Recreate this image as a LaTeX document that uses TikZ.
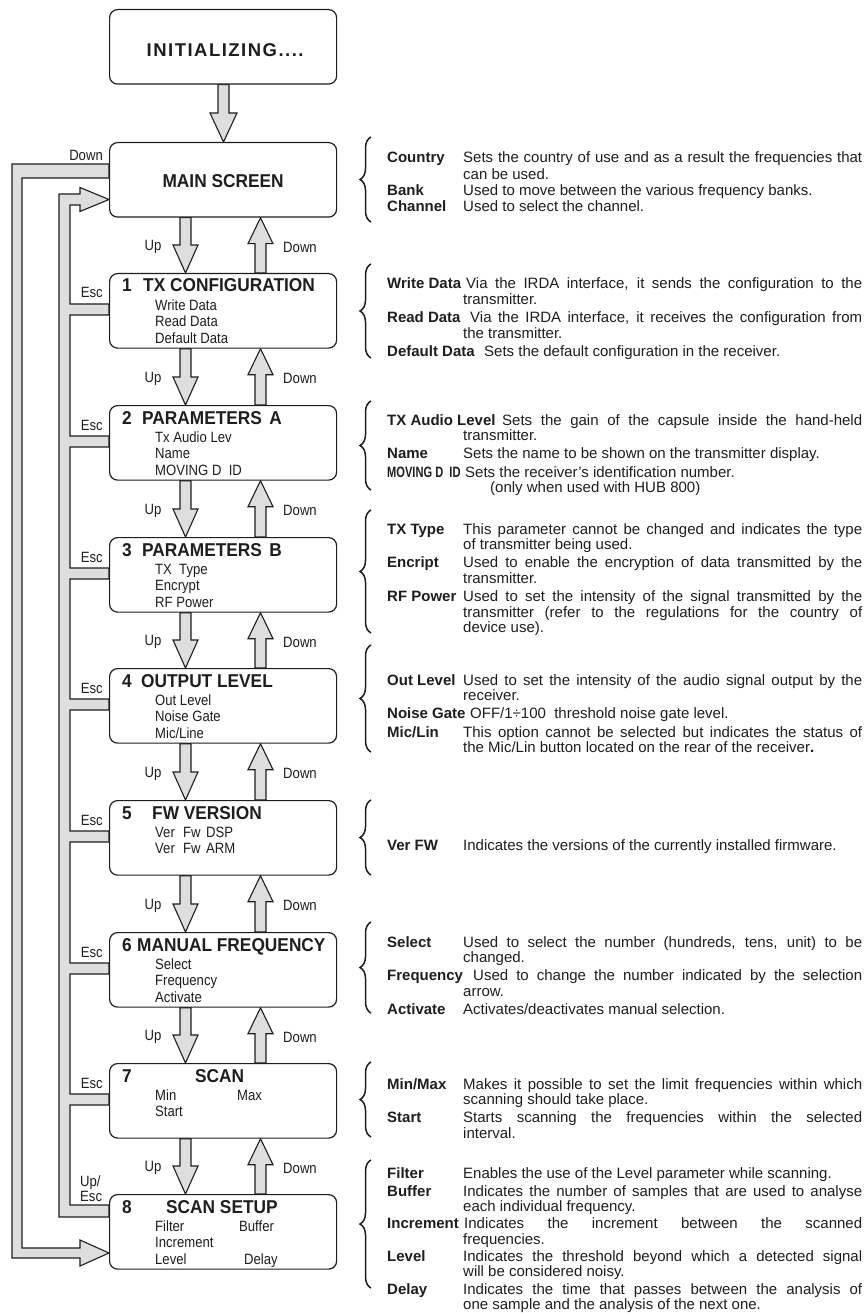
\documentclass[tikz,border=0pt]{standalone}
\usepackage{fontspec}
\usepackage{graphicx}
\setmainfont{Liberation Sans}
\newfontfamily\nfont[FakeStretch=0.88]{Liberation Sans}
\newfontfamily\tfont[FakeStretch=0.93]{Liberation Sans}
\newfontfamily\wfont[LetterSpace=8]{Liberation Sans}
\usetikzlibrary{calc,decorations.pathreplacing}
\pgfdeclarelayer{bg}
\pgfsetlayers{bg,main}
\definecolor{arrgrey}{RGB}{222,222,222}
\definecolor{ink}{RGB}{30,30,30}
\newcommand\ent[3][76pt]{\par\hangindent=76pt\hangafter=1\noindent\rule{0pt}{12pt}\makebox[#1][l]{\bfseries #2}#3\par}
\tikzset{
 scr/.style={draw=ink, line width=1.2pt, rounded corners=8pt, fill=white, minimum width=227pt, minimum height=74.5pt, anchor=north west, inner sep=0pt},
 ttl/.style={font=\tfont\bfseries\fontsize{18.6}{20}\selectfont, anchor=base west, inner sep=0pt, text=ink},
 itm/.style={font=\nfont\fontsize{14.9}{16}\selectfont, anchor=base west, inner sep=0pt, text=ink},
 lbl/.style={font=\nfont\fontsize{14.9}{15}\selectfont, inner sep=0pt, text=ink},
 blk/.style={draw=ink, line width=1.1pt, fill=arrgrey, line join=miter},
 brc/.style={draw=ink, line width=1.5pt, decorate, decoration={brace, amplitude=11pt}},
 desc/.style={anchor=north west, inner sep=0pt, text width=475pt, align=justify, text=ink,
   font=\fontsize{15}{15.5}\selectfont,
   execute at begin node={\tolerance=10000\hyphenpenalty=10000\exhyphenpenalty=10000\parskip=2.8pt}},
}
\newcommand\itemsAt[4]{%
 \node[itm] (#1i1) at ($(#1.north west)+(46,37)$) {#2};
 \node[itm] (#1i2) at ($(#1.north west)+(46,53.5)$) {#3};
 \node[itm] (#1i3) at ($(#1.north west)+(46,70)$) {#4};}
\newcommand\titleAt[4]{%
 \node[ttl] (#1n) at ($(#1.north west)+(13,19)$) {#2};
 \node[ttl] (#1t) at ($(#1.north west)+(#3,19)$) {#4};}
\newcommand\dnArr[2]{%
 \draw[blk] ($(#1.south west)+(71,0)$) -- ($(#1.south west)+(82,0)$) -- ($(#2.north west)+(82,-28)$) -- ($(#2.north west)+(89,-28)$) -- ($(#2.north west)+(76.5,0)$) -- ($(#2.north west)+(64,-28)$) -- ($(#2.north west)+(71,-28)$) -- cycle;
 \node[lbl] (#1up) at ($(#1.south west)!0.5!(#2.north west)+(44,2)$) {Up};}
\newcommand\upArr[2]{%
 \draw[blk] ($(#2.north west)+(146,0)$) -- ($(#2.north west)+(157,0)$) -- ($(#1.south west)+(157,26)$) -- ($(#1.south west)+(164,26)$) -- ($(#1.south west)+(151.5,0)$) -- ($(#1.south west)+(139,26)$) -- ($(#1.south west)+(146,26)$) -- cycle;
 \node[lbl] (#1dn) at ($(#1.south west)!0.5!(#2.north west)+(191,2)$) {Down};}
\newcommand\escAt[1]{\node[lbl, anchor=base east] (#1esc) at ($(#1.north west)+(-6,25)$) {Esc};}
\begin{document}
\begin{tikzpicture}[x=1pt,y=-1pt]
\useasboundingbox (0,0) rectangle (866,1313);
% screens
\node[scr] (init) at (109,9) {};
\node[scr] (b0) at (109,142) {};
\node[scr] (b1) at (109,273) {};
\node[scr] (b2) at (109,405) {};
\node[scr] (b3) at (109,537) {};
\node[scr] (b4) at (109,668) {};
\node[scr] (b5) at (109,800) {};
\node[scr] (b6) at (109,932) {};
\node[scr] (b7) at (109,1063) {};
\node[scr] (b8) at (109,1194) {};
% texts in screens
\node[inner sep=0pt, text=ink, font=\wfont\bfseries\fontsize{18.5}{20}\selectfont] (initt) at ($(init.center)+(2,3)$) {INITIALIZING....};
\node[ttl, anchor=center] (b0t) at ($(b0.center)+(0,1)$) {MAIN SCREEN};
\titleAt{b1}{1}{34}{TX CONFIGURATION}
\titleAt{b2}{2}{33}{PARAMETERS\hspace{0.4em}A}
\titleAt{b3}{3}{33}{PARAMETERS\hspace{0.4em}B}
\titleAt{b4}{4}{32}{OUTPUT LEVEL}
\titleAt{b5}{5}{43}{FW VERSION}
\titleAt{b6}{6}{28}{MANUAL FREQUENCY}
\titleAt{b7}{7}{86}{SCAN}
\titleAt{b8}{8}{57}{SCAN SETUP}
\itemsAt{b1}{Write Data}{Read Data}{Default Data}
\itemsAt{b2}{Tx Audio Lev}{Name}{MOVING D\ \ ID}
\itemsAt{b3}{TX\ \ Type}{Encrypt}{RF Power}
\itemsAt{b4}{Out Level}{Noise Gate}{Mic/Line}
\node[itm] (b5i1) at ($(b5.north west)+(46,37)$) {\makebox[28pt][l]{Ver}\makebox[23pt][l]{Fw}DSP};
\node[itm] (b5i2) at ($(b5.north west)+(46,53.5)$) {\makebox[28pt][l]{Ver}\makebox[23pt][l]{Fw}ARM};
\itemsAt{b6}{Select}{Frequency}{Activate}
\node[itm] (b7i1) at ($(b7.north west)+(46,37)$) {Min};
\node[itm] (b7i2) at ($(b7.north west)+(128,37)$) {Max};
\node[itm] (b7i3) at ($(b7.north west)+(46,53.5)$) {Start};
\node[itm] (b8i1) at ($(b8.north west)+(46,37)$) {Filter};
\node[itm] (b8i2) at ($(b8.north west)+(130,37)$) {Buffer};
\node[itm] (b8i3) at ($(b8.north west)+(46,53.5)$) {Increment};
\node[itm] (b8i4) at ($(b8.north west)+(46,70)$) {Level};
\node[itm] (b8i5) at ($(b8.north west)+(135,70)$) {Delay};
% labels on the left
\node[lbl, anchor=base east] (topdown) at ($(b0.north west)+(-6,19)$) {Down};
\escAt{b1}\escAt{b2}\escAt{b3}\escAt{b4}\escAt{b5}\escAt{b6}\escAt{b7}
\node[lbl, align=left, anchor=south west] (b8esc) at ($(b8.north west)+(-29,8)$) {Up/\\Esc};
% block arrows and rails
\begin{pgfonlayer}{bg}
\fill[white] (0,0) rectangle (866,1313);
\draw[blk] ($(init.south west)+(109,0)$) -- ($(init.south west)+(120,0)$) -- ($(b0.north west)+(120,-29)$) -- ($(b0.north west)+(128,-29)$) -- ($(b0.north west)+(114.5,0)$) -- ($(b0.north west)+(101,-29)$) -- ($(b0.north west)+(109,-29)$) -- cycle;
\dnArr{b0}{b1}\upArr{b0}{b1}
\dnArr{b1}{b2}\upArr{b1}{b2}
\dnArr{b2}{b3}\upArr{b2}{b3}
\dnArr{b3}{b4}\upArr{b3}{b4}
\dnArr{b4}{b5}\upArr{b4}{b5}
\dnArr{b5}{b6}\upArr{b5}{b6}
\dnArr{b6}{b7}\upArr{b6}{b7}
\dnArr{b7}{b8}\upArr{b7}{b8}
% outer rail: Down from main screen to scan setup
\draw[blk] ($(b0.north west)+(0,22)$) -- ($(b0.north west)+(-97,22)$) -- ($(b8.north west)+(-97,64)$) -- ($(b8.north west)+(-29,64)$) -- ($(b8.north west)+(-29,72)$) -- ($(b8.north west)+(0,59)$) -- ($(b8.north west)+(-29,46)$) -- ($(b8.north west)+(-29,54)$) -- ($(b8.north west)+(-87,54)$) -- ($(b0.north west)+(-87,36)$) -- ($(b0.north west)+(0,36)$) -- cycle;
% inner rail: Esc back to main screen
\draw[blk] ($(b0.north west)+(0,57.5)$) -- ($(b0.north west)+(-29,69.5)$) -- ($(b0.north west)+(-29,63)$) -- ($(b0.north west)+(-39,63)$)
  foreach \b in {b1,b2,b3,b4,b5,b6,b7} { -- ($(\b.north west)+(-39,31)$) -- ($(\b.north west)+(0,31)$) -- ($(\b.north west)+(0,42)$) -- ($(\b.north west)+(-39,42)$) }
  -- ($(b8.north west)+(-39,11)$) -- ($(b8.north west)+(0,11)$) -- ($(b8.north west)+(0,23)$) -- ($(b8.north west)+(-50,23)$) -- ($(b0.north west)+(-50,52)$) -- ($(b0.north west)+(-29,52)$) -- ($(b0.north west)+(-29,45.5)$) -- cycle;
\end{pgfonlayer}
% braces
\draw[brc] (371,222) -- (371,137);
\draw[brc] (371,358) -- (371,264);
\draw[brc] (371,490) -- (371,401);
\draw[brc] (371,633) -- (371,510);
\draw[brc] (371,752) -- (371,645);
\draw[brc] (371,875) -- (371,800);
\draw[brc] (371,1013) -- (371,922);
\draw[brc] (371,1137) -- (371,1062);
\draw[brc] (371,1288) -- (371,1160);
% descriptions
\node[desc] (d0) at (387,146.5) {\fontsize{15}{16.3}\selectfont\parskip=0pt
\ent{Country}{Sets the country of use and as a result the frequencies that\linebreak can be used.}
\ent{Bank}{Used to move between the various frequency banks.}
\ent{Channel}{Used to select the channel.}};
\node[desc] (d1) at (387,270.5) {%
\ent[79pt]{Write Data}{Via the IRDA interface, it sends the configuration to the\linebreak transmitter.}
\ent[83pt]{Read Data}{Via the IRDA interface, it receives the configuration from\linebreak the transmitter.}
\ent[97pt]{Default Data}{Sets the default configuration in the receiver.}};
\node[desc] (d2) at (387,406.5) {%
\ent[115pt]{TX Audio Level}{Sets the gain of the capsule inside the hand-held\linebreak transmitter.}
\ent{Name}{Sets the name to be shown on the transmitter display.}
\ent[78pt]{\scalebox{0.74}[1]{MOVING D\ \ ID}}{Sets the receiver’s identification number.\hfil\break\hspace*{27pt}(only when used with HUB 800)}};
\node[desc] (d3) at (387,515.5) {%
\ent{TX Type}{This parameter cannot be changed and indicates the type\linebreak of transmitter being used.}
\ent{Encript}{Used to enable the encryption of data transmitted by the\linebreak transmitter.}
\ent{RF Power}{Used to set the intensity of the signal transmitted by the\linebreak transmitter (refer to the regulations for the country of\linebreak device use).}};
\node[desc] (d4) at (387,666.5) {%
\ent{Out Level}{Used to set the intensity of the audio signal output by the\linebreak receiver.}
\ent[83pt]{Noise Gate}{OFF/1÷100\ \ threshold noise gate level.}
\ent{Mic/Lin}{This option cannot be selected but indicates the status of\linebreak the Mic/Lin button located on the rear of the receiver{\bfseries .}}};
\node[desc] (d5) at (387,831.5) {%
\ent{Ver FW}{Indicates the versions of the currently installed firmware.}};
\node[desc] (d6) at (387,928.5) {%
\ent{Select}{Used to select the number (hundreds, tens, unit) to be\linebreak changed.}
\ent[86pt]{Frequency}{Used to change the number indicated by the selection\linebreak arrow.}
\ent{Activate}{Activates/deactivates manual selection.}};
\node[desc] (d7) at (387,1070.5) {%
\ent{Min/Max}{Makes it possible to set the limit frequencies within which\linebreak scanning should take place.}
\ent{Start}{Starts scanning the frequencies within the selected\linebreak interval.}};
\node[desc] (d8) at (387,1161) {\fontsize{15}{15.2}\selectfont\parskip=2.3pt
\ent{Filter}{Enables the use of the Level parameter while scanning.}
\ent{Buffer}{Indicates the number of samples that are used to analyse\linebreak each individual frequency.}
\ent[77pt]{Increment}{Indicates the increment between the scanned\linebreak frequencies.}
\ent{Level}{Indicates the threshold beyond which a detected signal\linebreak will be considered noisy.}
\ent{Delay}{Indicates the time that passes between the analysis of\linebreak one sample and the analysis of the next one.}};
\end{tikzpicture}
\end{document}
